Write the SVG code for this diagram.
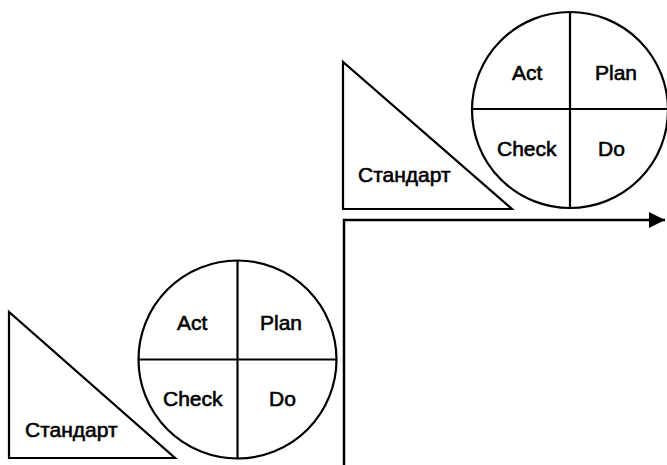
<svg xmlns="http://www.w3.org/2000/svg" width="667" height="465" viewBox="0 0 667 465">
  <style>
    .shape { fill: none; stroke: #000; stroke-width: 2.2; }
    .line { fill: none; stroke: #000; stroke-width: 2.5; }
    .label { font-family: "Liberation Sans", Arial, sans-serif; font-size: 21px; fill: #000; stroke: #000; stroke-width: 0.6; }
  </style>
  <defs>
    <marker id="arrow" markerUnits="userSpaceOnUse" markerWidth="17" markerHeight="17" refX="16" refY="8" orient="auto">
      <path d="M0,0 L16,8 L0,16 Z" fill="#000"/>
    </marker>
  </defs>
  <rect width="667" height="465" fill="#fff"/>

  <!-- step axis -->
  <g id="connectors">
    <path class="line" d="M344,465 L344,220 L665,220" marker-end="url(#arrow)"/>
  </g>

  <!-- lower level: standard wedge -->
  <g id="standard-low">
    <path class="shape" d="M9,312 L9,458 L175,458 Z"/>
    <text class="label" x="25" y="437">Стандарт</text>
  </g>

  <!-- lower level: PDCA wheel -->
  <g id="pdca-low">
    <circle class="shape" cx="237.5" cy="359.5" r="99"/>
    <line class="shape" x1="237.5" y1="260.5" x2="237.5" y2="458.5"/>
    <line class="shape" x1="138.5" y1="359.5" x2="336.5" y2="359.5"/>
    <text class="label" x="177" y="330">Act</text>
    <text class="label" x="260" y="330">Plan</text>
    <text class="label" x="163" y="406">Check</text>
    <text class="label" x="269" y="406">Do</text>
  </g>

  <!-- upper level: standard wedge -->
  <g id="standard-high">
    <path class="shape" d="M343,62 L343,209 L512,209 Z"/>
    <text class="label" x="358" y="182">Стандарт</text>
  </g>

  <!-- upper level: PDCA wheel -->
  <g id="pdca-high">
    <circle class="shape" cx="570" cy="110" r="98"/>
    <line class="shape" x1="570" y1="12" x2="570" y2="208"/>
    <line class="shape" x1="472" y1="109" x2="668" y2="109"/>
    <text class="label" x="512" y="80">Act</text>
    <text class="label" x="595" y="80">Plan</text>
    <text class="label" x="497" y="156">Check</text>
    <text class="label" x="598" y="156">Do</text>
  </g>
</svg>
